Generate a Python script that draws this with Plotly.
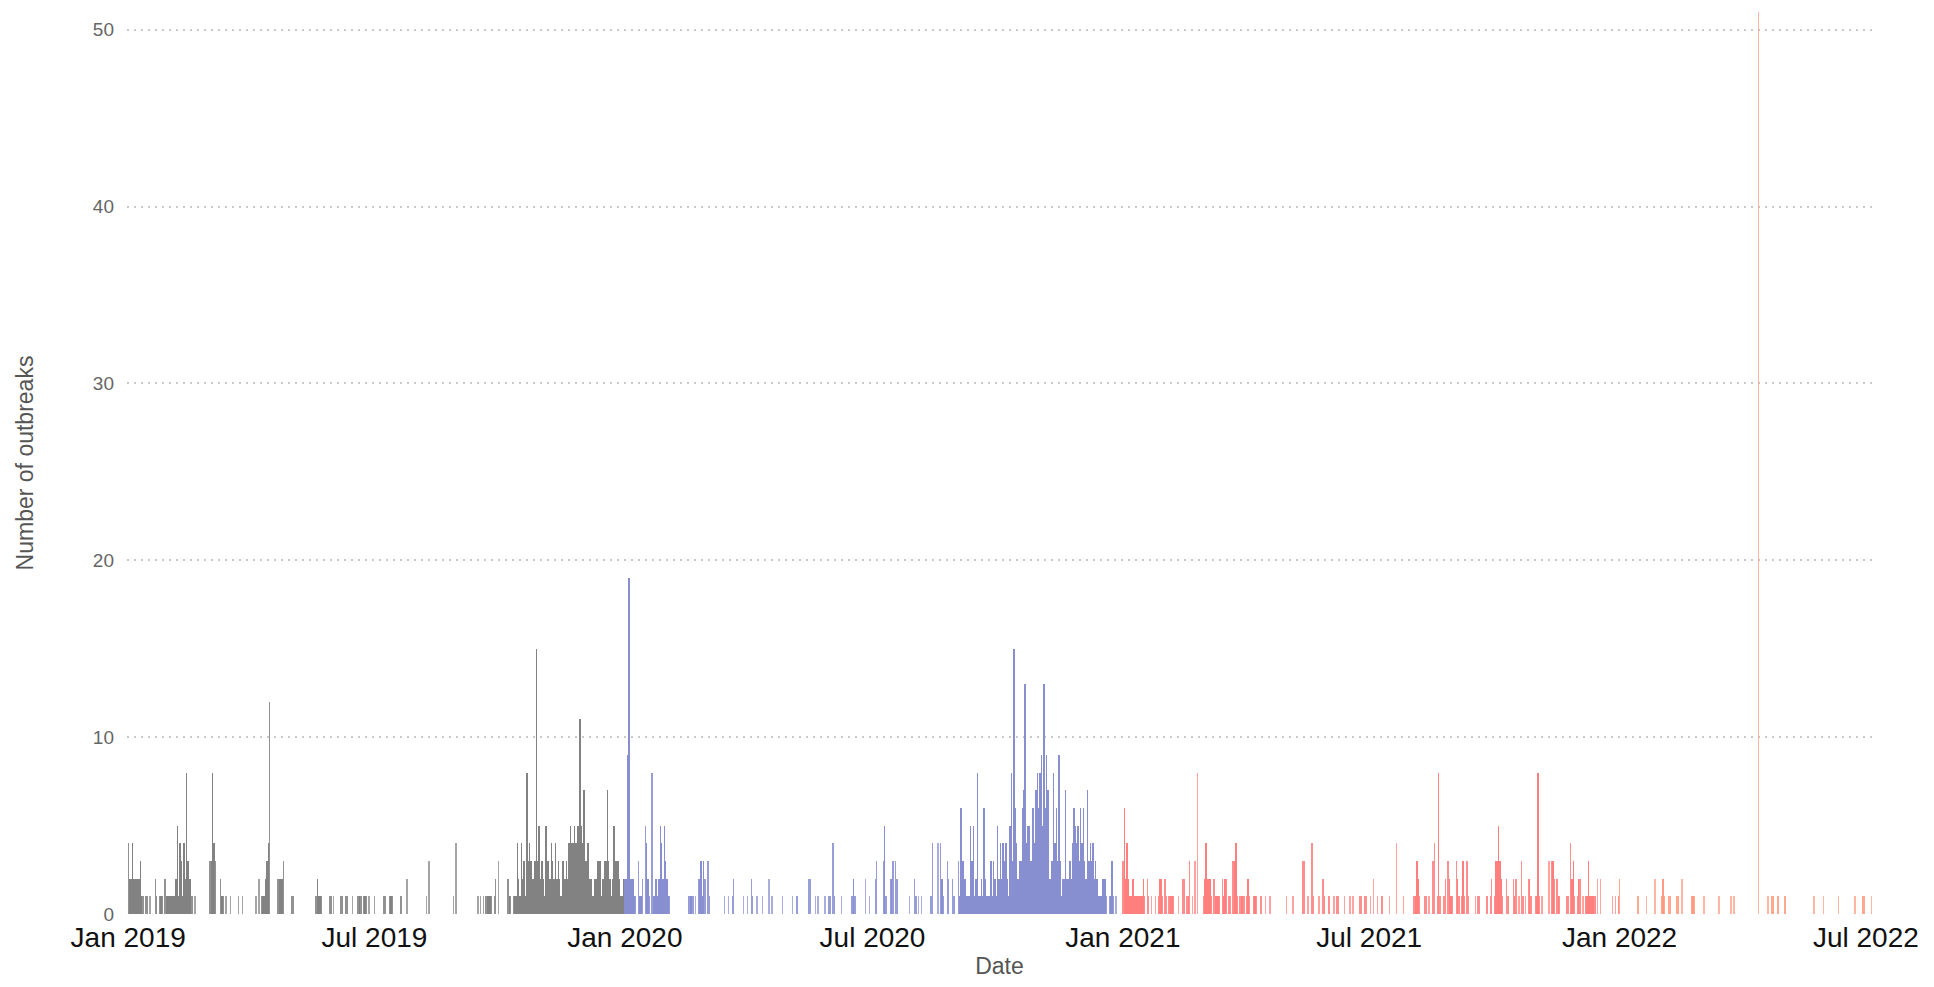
import plotly.graph_objects as go
import pandas as pd

# ---------------- data (day of year offset, number of outbreaks) ----------------
days_2019 = [
    0, 1, 2, 3, 4, 5, 6, 7, 8, 9,
    10, 11, 13, 14, 16, 20, 21, 23, 24, 25,
    27, 28, 29, 30, 31, 32, 33, 34, 35, 36,
    37, 38, 39, 40, 41, 42, 43, 44, 45, 46,
    47, 49, 60, 61, 62, 63, 64, 68, 69, 70,
    72, 75, 81, 84, 94, 96, 98, 99, 100, 101,
    102, 103, 104, 110, 111, 112, 113, 114, 120, 121,
    138, 139, 140, 141, 142, 148, 149, 151, 156, 157,
    160, 161, 165, 169, 170, 171, 173, 174, 175, 177,
    181, 188, 189, 192, 193, 194, 200, 201, 205, 219,
    221, 239, 241, 257, 259, 261, 263, 264, 265, 266,
    267, 269, 270, 272, 279, 280, 281, 283, 284, 285,
    286, 287, 288, 289, 290, 291, 292, 293, 294, 295,
    296, 297, 298, 299, 300, 301, 302, 303, 304, 305,
    306, 307, 308, 309, 310, 311, 312, 313, 314, 315,
    316, 317, 318, 319, 320, 321, 322, 323, 324, 325,
    326, 327, 328, 329, 330, 331, 332, 333, 334, 335,
    336, 337, 338, 339, 340, 341, 342, 343, 344, 345,
    346, 347, 348, 349, 350, 351, 352, 353, 354, 355,
    356, 357, 358, 359, 360, 361, 362, 363, 364,
]
counts_2019 = [
    4, 2, 2, 4, 2, 2, 2, 2, 2, 3,
    1, 1, 1, 1, 1, 2, 1, 1, 1, 1,
    2, 1, 1, 1, 1, 1, 1, 1, 2, 5,
    1, 4, 3, 1, 4, 2, 8, 3, 2, 2,
    1, 1, 3, 3, 8, 4, 3, 2, 1, 1,
    1, 1, 1, 1, 1, 2, 1, 1, 1, 2,
    3, 4, 12, 2, 2, 2, 2, 3, 1, 1,
    1, 2, 1, 1, 1, 1, 1, 1, 1, 1,
    1, 1, 1, 1, 1, 1, 1, 1, 1, 1,
    1, 1, 1, 1, 1, 1, 1, 1, 2, 1,
    3, 1, 4, 1, 1, 1, 1, 1, 1, 1,
    1, 1, 2, 3, 2, 1, 1, 1, 1, 1,
    4, 2, 1, 4, 2, 3, 1, 8, 3, 4,
    3, 2, 2, 3, 15, 3, 5, 2, 3, 2,
    1, 5, 3, 3, 2, 4, 3, 2, 4, 2,
    3, 2, 1, 3, 3, 2, 3, 2, 4, 5,
    4, 4, 5, 4, 5, 5, 11, 5, 4, 7,
    3, 3, 4, 2, 2, 1, 1, 2, 2, 3,
    3, 3, 1, 2, 3, 3, 7, 3, 2, 1,
    2, 5, 3, 3, 3, 2, 1, 1, 2,
]

days_2020 = [
    0, 1, 2, 3, 4, 5, 6, 7, 8, 10,
    11, 12, 13, 15, 16, 17, 18, 20, 21, 22,
    23, 24, 25, 26, 27, 28, 29, 30, 31, 32,
    33, 47, 48, 49, 50, 52, 54, 55, 56, 57,
    58, 59, 61, 62, 73, 76, 79, 80, 87, 90,
    93, 94, 97, 101, 106, 108, 116, 123, 126, 127,
    135, 136, 140, 142, 147, 150, 151, 153, 154, 159,
    167, 168, 169, 177, 180, 184, 185, 190, 191, 192,
    195, 196, 197, 199, 200, 209, 213, 214, 216, 218,
    225, 226, 230, 232, 233, 234, 237, 238, 241, 242,
    245, 246, 247, 248, 249, 250, 251, 252, 253, 254,
    255, 256, 257, 258, 259, 260, 261, 262, 263, 264,
    265, 266, 267, 268, 269, 270, 271, 272, 273, 274,
    275, 276, 277, 278, 279, 280, 281, 282, 283, 284,
    285, 286, 287, 288, 289, 290, 291, 292, 293, 294,
    295, 296, 297, 298, 299, 300, 301, 302, 303, 304,
    305, 306, 307, 308, 309, 310, 311, 312, 313, 314,
    315, 316, 317, 318, 319, 320, 321, 322, 323, 324,
    325, 326, 327, 328, 329, 330, 331, 332, 333, 334,
    335, 336, 337, 338, 339, 340, 341, 342, 343, 344,
    345, 346, 347, 348, 349, 350, 351, 352, 353, 354,
    356, 357, 358, 359, 361,
]
counts_2020 = [
    2, 2, 9, 19, 2, 2, 2, 1, 1, 3,
    1, 1, 2, 5, 4, 2, 1, 8, 1, 1,
    2, 1, 2, 5, 4, 2, 5, 3, 2, 1,
    1, 1, 1, 1, 1, 1, 2, 2, 3, 1,
    3, 2, 3, 1, 1, 1, 1, 2, 1, 1,
    2, 1, 1, 1, 2, 1, 1, 1, 1, 1,
    2, 2, 1, 1, 1, 1, 1, 4, 1, 1,
    1, 2, 1, 2, 1, 2, 3, 3, 5, 1,
    2, 2, 3, 3, 2, 1, 2, 1, 1, 1,
    1, 4, 4, 4, 2, 1, 3, 2, 2, 1,
    3, 1, 6, 3, 3, 2, 1, 1, 1, 5,
    3, 5, 1, 2, 8, 1, 1, 2, 1, 6,
    2, 1, 1, 1, 3, 1, 3, 2, 1, 5,
    2, 4, 2, 4, 3, 4, 2, 1, 5, 8,
    3, 15, 6, 4, 2, 3, 3, 6, 7, 13,
    4, 5, 5, 3, 3, 6, 4, 7, 8, 6,
    8, 9, 5, 13, 6, 9, 7, 2, 2, 3,
    8, 4, 6, 3, 9, 3, 1, 2, 2, 7,
    2, 2, 3, 2, 4, 6, 5, 4, 5, 3,
    6, 4, 6, 3, 2, 7, 3, 4, 3, 4,
    2, 3, 2, 1, 1, 1, 2, 2, 2, 1,
    1, 1, 3, 1, 1,
]

days_2021 = [
    0, 1, 2, 3, 4, 5, 6, 7, 8, 9,
    10, 11, 12, 13, 14, 15, 16, 18, 19, 21,
    24, 26, 27, 28, 29, 31, 32, 34, 35, 36,
    37, 41, 44, 45, 47, 48, 49, 51, 53, 55,
    59, 60, 61, 62, 63, 64, 65, 67, 68, 69,
    70, 71, 73, 74, 75, 76, 78, 79, 81, 82,
    83, 84, 86, 87, 88, 89, 91, 92, 93, 96,
    97, 98, 101, 102, 105, 108, 120, 125, 132, 133,
    136, 139, 140, 144, 147, 148, 151, 152, 155, 157,
    158, 163, 167, 169, 174, 175, 178, 179, 182, 184,
    187, 190, 191, 196, 201, 206, 214, 215, 216, 217,
    218, 222, 223, 225, 228, 229, 231, 232, 233, 236,
    237, 239, 240, 241, 242, 245, 246, 247, 249, 250,
    251, 253, 254, 259, 261, 262, 267, 268, 270, 271,
    273, 274, 275, 276, 277, 278, 279, 282, 283, 287,
    288, 289, 291, 293, 294, 296, 298, 299, 300, 303,
    304, 305, 306, 308, 313, 315, 316, 317, 319, 320,
    321, 326, 327, 329, 330, 331, 332, 334, 335, 336,
    338, 340, 341, 342, 343, 344, 345, 346, 347, 349,
    351, 360, 362, 364,
]
counts_2021 = [
    3, 6, 2, 4, 2, 1, 1, 2, 2, 1,
    1, 1, 1, 1, 1, 2, 1, 2, 1, 1,
    1, 1, 2, 2, 1, 2, 1, 1, 1, 1,
    1, 1, 2, 2, 1, 1, 3, 1, 3, 8,
    1, 2, 4, 2, 2, 2, 1, 2, 1, 1,
    1, 1, 2, 1, 2, 2, 1, 1, 3, 3,
    4, 1, 1, 1, 1, 1, 1, 2, 1, 1,
    1, 1, 1, 1, 1, 1, 1, 1, 3, 3,
    1, 4, 1, 1, 2, 1, 1, 1, 1, 1,
    1, 1, 1, 1, 1, 1, 1, 1, 1, 2,
    1, 1, 1, 1, 4, 1, 1, 1, 3, 2,
    1, 1, 1, 1, 3, 4, 1, 8, 1, 1,
    2, 3, 2, 1, 1, 3, 2, 1, 1, 3,
    1, 3, 1, 1, 1, 1, 1, 1, 1, 2,
    1, 3, 3, 5, 3, 2, 1, 2, 1, 2,
    1, 2, 1, 3, 1, 1, 2, 2, 1, 1,
    1, 8, 1, 1, 3, 3, 3, 2, 2, 1,
    1, 1, 1, 4, 2, 3, 1, 1, 2, 2,
    1, 1, 1, 3, 1, 1, 1, 1, 1, 2,
    2, 1, 1, 1,
]

days_2022 = [
    0, 13, 14, 20, 26, 31, 32, 33, 36, 37,
    42, 43, 46, 53, 54, 55, 62, 73, 82, 84,
    102, 109, 112, 113, 116, 117, 121, 122, 143, 150,
    161, 173, 179, 180, 185,
]
counts_2022 = [
    2, 1, 1, 1, 2, 1, 2, 1, 1, 1,
    1, 1, 2, 1, 1, 1, 1, 1, 1, 1,
    51, 1, 1, 1, 1, 1, 1, 1, 1, 1,
    1, 1, 1, 1, 1,
]

periods = [
    ("2019", "2019-01-01", days_2019, counts_2019, (122, 122, 122)),
    ("2020", "2020-01-01", days_2020, counts_2020, (128, 136, 206)),
    ("2021", "2021-01-01", days_2021, counts_2021, (255, 118, 118)),
    ("2022", "2022-01-01", days_2022, counts_2022, (255, 148, 118)),
]

font_family = "Liberation Sans, Arial, sans-serif"

# occupied days: contiguous bars render darker than isolated thin bars
occupied = set()
for _, start, days, counts, _ in periods:
    assert len(days) == len(counts)
    for d in days:
        occupied.add(pd.Timestamp(start) + pd.Timedelta(days=d))

fig = go.Figure()
for name, start, days, counts, rgb in periods:
    dates = [pd.Timestamp(start) + pd.Timedelta(days=d) for d in days]
    colors = []
    for dt in dates:
        n = int((dt - pd.Timedelta(days=1)) in occupied) + int((dt + pd.Timedelta(days=1)) in occupied)
        a = {0: 0.68, 1: 0.82, 2: 0.94}[n]
        colors.append(f"rgba({rgb[0]},{rgb[1]},{rgb[2]},{a})")
    fig.add_trace(go.Bar(
        x=dates, y=counts, name=name,
        width=86400000,
        marker=dict(color=colors, line=dict(width=0)),
        showlegend=False,
    ))

fig.update_layout(
    width=1918, height=971,
    margin=dict(l=119, r=54, t=4, b=65),
    plot_bgcolor="white", paper_bgcolor="white",
    barmode="overlay", bargap=0,
    font=dict(family=font_family),
    xaxis=dict(
        type="date",
        range=["2018-12-31 03:00", "2022-07-05 12:00"],
        tick0="2019-01-01", dtick="M6", tickformat="%b %Y",
        showgrid=False, zeroline=False, showline=False, ticks="",
        ticklabelstandoff=4,
        tickfont=dict(size=28, color="#111111"),
        title=dict(text="Date", font=dict(size=23, color="#555555"), standoff=6),
    ),
    yaxis=dict(
        range=[0, 51], dtick=10, tick0=0,
        showgrid=True, gridcolor="#c9c9c9", gridwidth=2, griddash="2px,5px",
        zeroline=False, showline=False, ticks="",
        ticklabelstandoff=12,
        tickfont=dict(size=19, color="#666666"),
        title=dict(text="Number of outbreaks", font=dict(size=23, color="#555555"), standoff=52),
    ),
)

fig.write_html("out.html")
